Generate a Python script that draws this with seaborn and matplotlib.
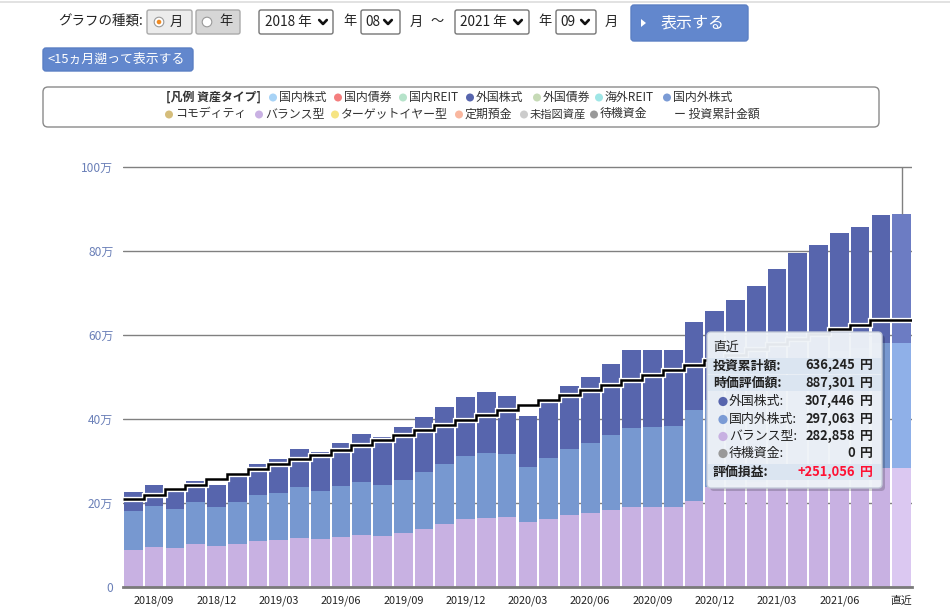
import numpy as np
import pandas as pd
import matplotlib
matplotlib.use("Agg")
import matplotlib.pyplot as plt
import matplotlib.patheffects as pe
from matplotlib.patches import FancyBboxPatch, Circle, Rectangle, Polygon
import seaborn as sns

# ---------------- data (values in 万円) ----------------
months = ["2018/08", "2018/09", "2018/10", "2018/11", "2018/12",
          "2019/01", "2019/02", "2019/03", "2019/04", "2019/05", "2019/06",
          "2019/07", "2019/08", "2019/09", "2019/10", "2019/11", "2019/12",
          "2020/01", "2020/02", "2020/03", "2020/04", "2020/05", "2020/06",
          "2020/07", "2020/08", "2020/09", "2020/10", "2020/11", "2020/12",
          "2021/01", "2021/02", "2021/03", "2021/04", "2021/05", "2021/06",
          "2021/07", "2021/08", "直近"]

balance = [8.8, 9.5, 9.4, 10.2, 9.8, 10.2, 10.9, 11.1, 11.6, 11.4, 11.8,
           12.4, 12.1, 12.9, 13.8, 15.0, 16.2, 16.5, 16.7, 15.5, 16.2, 17.1,
           17.6, 18.4, 19.1, 19.1, 19.1, 20.4, 23.8, 24.3, 25.0, 25.9, 26.7,
           27.0, 27.6, 27.9, 28.3, 28.2858]
global_eq = [9.2, 9.8, 9.2, 10.0, 9.2, 10.0, 10.9, 11.2, 12.1, 11.4, 12.2,
             12.7, 12.1, 12.6, 13.6, 14.3, 15.1, 15.4, 15.0, 13.1, 14.5, 15.8,
             16.8, 17.8, 18.7, 19.0, 19.2, 21.7, 20.7, 21.7, 23.2, 24.9, 26.6,
             27.5, 28.6, 29.1, 29.7, 29.7063]
foreign_eq = [4.6, 5.0, 4.8, 5.0, 5.3, 6.4, 7.5, 8.2, 9.2, 9.3, 10.3,
              11.3, 11.5, 12.6, 13.1, 13.6, 13.9, 14.5, 13.8, 12.1, 13.7, 15.0,
              15.7, 16.8, 18.6, 18.3, 18.1, 20.9, 21.2, 22.3, 23.5, 24.9, 26.2,
              26.9, 28.1, 28.7, 30.6, 30.7446]
invested = [20.9, 22.0, 23.3, 24.4, 25.7, 26.8, 28.0, 29.2, 30.4, 31.5, 32.7,
            33.9, 34.9, 36.1, 37.3, 38.5, 39.7, 40.9, 42.1, 43.3, 44.5, 45.8,
            47.0, 48.2, 49.4, 50.5, 51.7, 52.9, 54.1, 55.3, 56.6, 57.8, 59.0,
            60.3, 61.5, 62.5, 63.6245, 63.6245]

y_ticks = [0, 20, 40, 60, 80, 100]
y_tick_labels = ["0", "20万", "40万", "60万", "80万", "100万"]
x_tick_idx = [1, 4, 7, 10, 13, 16, 19, 22, 25, 28, 31, 34, 37]

tip_title = "直近"
tip_invested = "636,245"
tip_value = "887,301"
tip_items = ["外国株式:", "国内外株式:", "バランス型:", "待機資金:"]
tip_item_vals = ["307,446", "297,063", "282,858", "0"]
tip_gain = "+251,056"

legend_row1 = ["国内株式", "国内債券", "国内REIT", "外国株式", "外国債券", "海外REIT", "国内外株式"]
legend_row1_colors = ["#a8d3f6", "#f47e7e", "#b6e3ca", "#5765ad", "#c6dab6", "#9fe6e6", "#7b9bd5"]
legend_row2 = ["コモディティ", "バランス型", "ターゲットイヤー型", "定期預金", "未指図資産", "待機資金"]
legend_row2_colors = ["#d5bd7b", "#c9b1e3", "#f6e483", "#f9b79f", "#cccccc", "#999999"]

# ---------------- style ----------------
sns.set_style("white")
plt.rcParams["font.family"] = ["Noto Sans CJK JP", "DejaVu Sans"]

W, H = 950, 608
fig = plt.figure(figsize=(W / 100, H / 100), dpi=100)
fig.patch.set_facecolor("white")

y0_px, px_per, ymax = 587, 4.2, 100.6
ax = fig.add_axes([123 / W, (H - y0_px) / H, 789 / W, ymax * px_per / H])

n = len(months)
bal = np.array(balance)
mid = bal + np.array(global_eq)
tot = mid + np.array(foreign_eq)

c_fore, c_fore_hi = "#5765ad", "#6c7cc3"
c_glob, c_glob_hi = "#7798d0", "#8fb0e8"
c_bal, c_bal_hi = "#c8b1e2", "#dbc8f1"

for vals, base, hi in [(tot, c_fore, c_fore_hi), (mid, c_glob, c_glob_hi), (bal, c_bal, c_bal_hi)]:
    pal = {m: base for m in months}
    pal[months[-1]] = hi
    sns.barplot(x=months, y=vals, hue=months, palette=pal, order=months,
                hue_order=months, legend=False, width=0.9, saturation=1,
                errorbar=None, linewidth=0, ax=ax, zorder=2)

edges = np.arange(n + 1) - 0.5
st = ax.stairs(invested, edges, baseline=None, color="black", linewidth=1.8, zorder=5)
st.set_path_effects([pe.Stroke(linewidth=3.8, foreground="white"), pe.Normal()])

ax.vlines(n - 1, tot[-1], 100, color="#808080", linewidth=1.0, zorder=4)

ax.set_xlim(-0.5, n - 0.5)
ax.set_ylim(0, ymax)
ax.set_yticks(y_ticks)
ax.set_yticklabels(y_tick_labels)
ax.set_xticks(x_tick_idx)
ax.set_xticklabels([months[i] for i in x_tick_idx])
ax.set_xlabel("")
ax.set_ylabel("")
ax.grid(axis="y", color="#808080", linewidth=1.0)
ax.grid(axis="x", visible=False)
ax.set_axisbelow(True)
for s in ["top", "left", "right"]:
    ax.spines[s].set_visible(False)
ax.spines["bottom"].set_color("#7a7a7a")
ax.spines["bottom"].set_linewidth(2.0)
ax.tick_params(axis="y", length=0, pad=7, labelsize=8.6, labelcolor="#6b80b8")
ax.tick_params(axis="x", length=3.5, width=1, color="#808080", pad=2.5,
               labelsize=7.8, labelcolor="#222222", direction="out")
ax.set_facecolor("white")

# ---------------- UI overlay in pixel coordinates ----------------
ui = fig.add_axes([0, 0, 1, 1], zorder=10)
ui.set_xlim(0, W)
ui.set_ylim(H, 0)
ui.axis("off")
ui.patch.set_alpha(0)


def box(x0, y0, x1, y1, fc, ec, lw=1.0, r=2.0, alpha=1.0, z=1):
    p = FancyBboxPatch((x0, y0), x1 - x0, y1 - y0,
                       boxstyle=f"round,pad=0,rounding_size={r}",
                       fc=fc, ec=ec, lw=lw, alpha=alpha, zorder=z)
    ui.add_patch(p)
    return p


def txt(x, y, s, size=9.5, color="#222222", ha="left", weight="normal", z=3):
    ui.text(x, y, s, fontsize=size, color=color, ha=ha, va="center",
            fontweight=weight, zorder=z)


def chevron(x, y):
    ui.plot([x - 3.8, x, x + 3.8], [y - 2.0, y + 2.0, y - 2.0],
            color="#111111", lw=1.9, solid_capstyle="round", zorder=3)


ui.plot([0, W], [1.5, 1.5], color="#dddddd", lw=1.2)

txt(58, 22, "グラフの種類:", 9.7)
box(147, 10, 192, 34, "#ececec", "#aaaaaa")
ui.add_patch(Circle((159, 22), 4.8, fc="white", ec="#999999", lw=0.8, zorder=3))
ui.add_patch(Circle((159, 22), 2.3, fc="#ef8a22", ec="none", zorder=4))
txt(170, 22, "月", 9.5)
box(196, 10, 240, 34, "#d6d6d6", "#aaaaaa")
ui.add_patch(Circle((207, 22), 4.8, fc="white", ec="#999999", lw=0.8, zorder=3))
txt(219, 22, "年", 9.5)

box(259, 10, 333, 34, "white", "#767676")
txt(265, 22, "2018 年", 9.8)
chevron(323, 22)
txt(343, 22, "年", 9.5)
box(361, 10, 400, 34, "white", "#767676")
txt(365, 22, "08", 9.8)
chevron(388, 22)
txt(410, 22, "月", 9.5)
txt(430, 22, "～", 9.5)
box(455, 10, 529, 34, "white", "#767676")
txt(460, 22, "2021 年", 9.8)
chevron(518, 22)
txt(538, 22, "年", 9.5)
box(556, 10, 596, 34, "white", "#767676")
txt(560, 22, "09", 9.8)
chevron(585, 22)
txt(605, 22, "月", 9.5)

box(631, 5, 748, 41, "#6287cd", "#5a7fc4", r=3)
ui.add_patch(Polygon([(641, 19), (646, 23), (641, 27)], closed=True, fc="white", ec="none", zorder=3))
txt(661, 22.5, "表示する", 11.5, color="white")

box(43, 48, 193, 71, "#6287cd", "#5a7fc4", r=3)
txt(48, 59.5, "<15ヵ月遡って表示する", 9.3, color="white")

# legend box
box(43, 87, 879, 127, "white", "#8a8a8a", lw=1.0, r=5)
txt(166, 97, "[凡例 資産タイプ]", 8.6, weight="bold", color="#333333")
row1_x = [273, 338, 403, 470, 537, 599, 667]
for x, lab, c in zip(row1_x, legend_row1, legend_row1_colors):
    ui.add_patch(Circle((x, 97.5), 4.0, fc=c, ec="none", zorder=3))
    txt(x + 6, 97, lab, 8.6, color="#333333")
row2_x = [169, 259, 335, 459, 524, 594]
for x, lab, c in zip(row2_x, legend_row2, legend_row2_colors):
    ui.add_patch(Circle((x, 114.5), 4.0, fc=c, ec="none", zorder=3))
    txt(x + 6, 114, lab, 8.1 if lab == "未指図資産" else 8.6, color="#333333")
txt(674, 114, "ー 投資累計金額", 8.6, color="#333333")

# tooltip
box(710, 335, 885, 491, "#000000", "none", r=4, alpha=0.18, z=5)
box(707, 332, 882, 488, "#f1f5fa", "#c3cad8", lw=1.0, r=4, alpha=0.95, z=6)
for yb0, yb1 in [(358, 373.5), (375, 391), (464, 480)]:
    ui.add_patch(Rectangle((708, yb0), 173, yb1 - yb0, fc="#dbe5f1", ec="none", zorder=7))
txt(713, 347.5, tip_title, 9.3, z=8)
txt(713, 365.5, "投資累計額:", 9.3, weight="bold", z=8)
txt(855, 365.5, tip_invested, 9.3, ha="right", weight="bold", z=8)
txt(860, 365.5, "円", 9.3, weight="bold", z=8)
txt(713, 383, "時価評価額:", 9.3, weight="bold", z=8)
txt(855, 383, tip_value, 9.3, ha="right", weight="bold", z=8)
txt(860, 383, "円", 9.3, weight="bold", z=8)
item_y = [401, 419, 436, 453]
item_c = [c_fore, "#7b9bd5", c_bal, "#999999"]
for yy, lab, val, c in zip(item_y, tip_items, tip_item_vals, item_c):
    ui.add_patch(Circle((723, yy + 0.5), 4.6, fc=c, ec="none", zorder=8))
    txt(729, yy, lab, 9.3, z=8)
    txt(855, yy, val, 9.3, ha="right", weight="bold", z=8)
    txt(860, yy, "円", 9.3, weight="bold", z=8)
txt(713, 472, "評価損益:", 9.3, weight="bold", z=8)
txt(855, 472, tip_gain, 9.3, ha="right", weight="bold", color="#ff1133", z=8)
txt(860, 472, "円", 9.3, weight="bold", color="#ff1133", z=8)

fig.savefig("out.png", dpi=100, facecolor="white")
